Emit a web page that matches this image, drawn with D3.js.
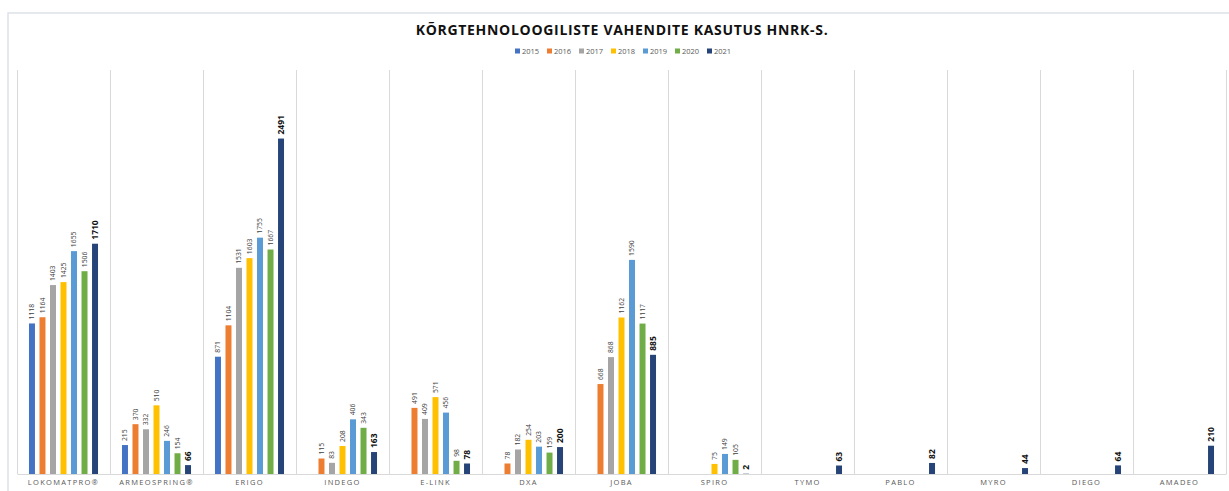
<!DOCTYPE html>
<html>
<head>
<meta charset="utf-8">
<script src="https://cdn.jsdelivr.net/npm/d3@7"></script>
<style>
  html, body { margin: 0; padding: 0; background: #fff; }
  svg { display: block; }
</style>
</head>
<body>
<svg id="chart" width="1229" height="491"></svg>
<script>
const title = "KÕRGTEHNOLOOGILISTE VAHENDITE KASUTUS HNRK-S.";
const categories = ["LOKOMATPRO®", "ARMEOSPRING®", "ERIGO", "INDEGO", "E-LINK", "DXA", "JOBA", "SPIRO", "TYMO", "PABLO", "MYRO", "DIEGO", "AMADEO"];
const years = ["2015", "2016", "2017", "2018", "2019", "2020", "2021"];
const v2015 = [1118, 215, 871, null, null, null, null, null, null, null, null, null, null];
const v2016 = [1164, 370, 1104, 115, 491, 78, 668, null, null, null, null, null, null];
const v2017 = [1403, 332, 1531, 83, 409, 182, 868, null, null, null, null, null, null];
const v2018 = [1425, 510, 1603, 208, 571, 254, 1162, 75, null, null, null, null, null];
const v2019 = [1655, 246, 1755, 406, 456, 203, 1590, 149, null, null, null, null, null];
const v2020 = [1506, 154, 1667, 343, 98, 159, 1117, 105, null, null, null, null, null];
const v2021 = [1710, 66, 2491, 163, 78, 200, 885, 2, 63, 82, 44, 64, 210];
const colors = ["#4472C4", "#ED7D31", "#A5A5A5", "#FFC000", "#5B9BD5", "#70AD47", "#264478"];
const yDomainMax = 3000;

const seriesValues = [v2015, v2016, v2017, v2018, v2019, v2020, v2021];
const series = years.map((y, i) => ({ year: y, color: colors[i], values: seriesValues[i] }));

const svg = d3.select("#chart");
const plot = { left: 17, right: 1226, top: 70, bottom: 474 };

// outer frame
svg.append("rect")
  .attr("x", 8).attr("y", 13)
  .attr("width", 1400).attr("height", 600)
  .attr("fill", "none").attr("stroke", "#dde1e6").attr("stroke-width", 1.5);

const x0 = d3.scaleBand().domain(categories).range([plot.left, plot.right]).padding(0);
const x1 = d3.scaleBand().domain(years).range([0, x0.bandwidth()])
  .paddingInner(0.43).paddingOuter(1.14);
const y = d3.scaleLinear().domain([0, yDomainMax]).range([plot.bottom, plot.top]);

// vertical category gridlines
const bounds = categories.map(c => x0(c)).concat([x0(categories[categories.length - 1]) + x0.bandwidth()]);
svg.append("g").selectAll("line").data(bounds).join("line")
  .attr("x1", d => Math.round(d) + 0.5).attr("x2", d => Math.round(d) + 0.5)
  .attr("y1", plot.top).attr("y2", plot.bottom)
  .attr("stroke", "#d9d9d9").attr("stroke-width", 1);

// x axis
const xAxis = d3.axisBottom(x0).tickSize(0).tickPadding(6);
const gx = svg.append("g").attr("transform", `translate(0,${plot.bottom})`).call(xAxis);
gx.select(".domain").attr("stroke", "#d9d9d9");
gx.selectAll("text")
  .attr("font-family", "'Open Sans', sans-serif")
  .attr("font-size", 7.5)
  .attr("letter-spacing", "1.3px")
  .attr("fill", "#595959");

// bars
const groups = svg.append("g").selectAll("g").data(series).join("g")
  .attr("fill", d => d.color);

groups.selectAll("rect")
  .data(d => d.values.map((v, i) => ({ v, cat: categories[i], year: d.year })).filter(e => e.v !== null))
  .join("rect")
  .attr("x", d => x0(d.cat) + x1(d.year))
  .attr("width", x1.bandwidth())
  .attr("y", d => y(d.v))
  .attr("height", d => y(0) - y(d.v));

// data labels
const labels = svg.append("g");
series.forEach((s, si) => {
  const isLast = si === series.length - 1;
  labels.selectAll(null)
    .data(s.values.map((v, i) => ({ v, cat: categories[i], year: s.year })).filter(e => e.v !== null))
    .join("text")
    .attr("transform", d => {
      const cx = x0(d.cat) + x1(d.year) + x1.bandwidth() / 2 + (isLast ? 3 : 2.4);
      const cy = y(d.v) - 4;
      return `translate(${cx},${cy}) rotate(-90)`;
    })
    .attr("text-anchor", "start")
    .attr("font-family", "'Open Sans', sans-serif")
    .attr("font-size", isLast ? 8.5 : 6.8)
    .attr("font-weight", isLast ? "bold" : "normal")
    .attr("fill", isLast ? "#111" : "#404040")
    .text(d => d.v);
});

// title
svg.append("text")
  .attr("x", 622).attr("y", 35)
  .attr("text-anchor", "middle")
  .attr("font-family", "'Open Sans', sans-serif")
  .attr("font-weight", "bold")
  .attr("font-size", 14)
  .attr("letter-spacing", "0.7px")
  .attr("fill", "#111")
  .text(title);

// legend
const legendItemW = 32;
const legendStart = 515;
const lg = svg.append("g").attr("transform", `translate(${legendStart},53)`);
const items = lg.selectAll("g").data(series).join("g")
  .attr("transform", (d, i) => `translate(${i * legendItemW},0)`);
items.append("rect").attr("x", 0).attr("y", -4.5).attr("width", 5).attr("height", 5)
  .attr("fill", d => d.color);
items.append("text").attr("x", 7).attr("y", 0.8)
  .attr("font-family", "'Open Sans', sans-serif")
  .attr("font-size", 7.5)
  .attr("fill", "#595959")
  .text(d => d.year);
</script>
</body>
</html>
